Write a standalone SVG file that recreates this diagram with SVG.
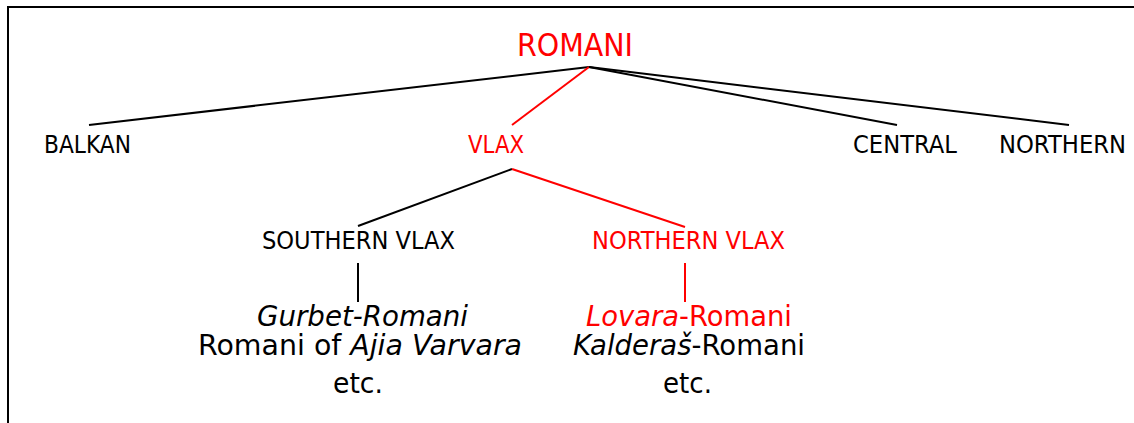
<svg xmlns="http://www.w3.org/2000/svg" width="1134" height="423" viewBox="0 0 1134 423">
<style>
text{font-family:"DejaVu Sans","Liberation Sans",sans-serif;fill:#000}
.r{fill:#ff0000}
.l1{font-size:25px}
.l2{font-size:24px}
.l3{font-size:28px}
.top{font-size:32px}
.i{font-style:italic}
.ln{stroke:#000;stroke-width:2;fill:none}
.lr{stroke:#ff0000;stroke-width:2;fill:none}
</style>
<rect width="1134" height="423" fill="#fff"/>
<path d="M8,423 V7 H1134" stroke="#000" stroke-width="2" fill="none"/>
<g id="connectors">
<line class="ln" x1="589" y1="67" x2="89" y2="125"/>
<line class="lr" x1="589" y1="67" x2="512" y2="125"/>
<line class="ln" x1="589" y1="67" x2="897" y2="125"/>
<line class="ln" x1="589" y1="67" x2="1069" y2="125"/>
<line class="ln" x1="512" y1="169" x2="358" y2="226"/>
<line class="lr" x1="512" y1="169" x2="685" y2="227"/>
<line class="ln" x1="358" y1="263" x2="358" y2="302"/>
<line class="lr" x1="685" y1="263" x2="685" y2="302"/>
</g>
<g id="romani"><text class="top r" x="517" y="56" textLength="116" lengthAdjust="spacingAndGlyphs">ROMANI</text></g>
<g id="balkan"><text class="l1" x="44" y="153" textLength="87" lengthAdjust="spacingAndGlyphs">BALKAN</text></g>
<g id="vlax"><text class="l1 r" x="468" y="153" textLength="56" lengthAdjust="spacingAndGlyphs">VLAX</text></g>
<g id="central"><text class="l1" x="853" y="153" textLength="104" lengthAdjust="spacingAndGlyphs">CENTRAL</text></g>
<g id="northern"><text class="l1" x="999" y="153" textLength="127" lengthAdjust="spacingAndGlyphs">NORTHERN</text></g>
<g id="southern-vlax"><text class="l2" x="262" y="249" textLength="193" lengthAdjust="spacingAndGlyphs">SOUTHERN VLAX</text></g>
<g id="northern-vlax"><text class="l2 r" x="592" y="249" textLength="193" lengthAdjust="spacingAndGlyphs">NORTHERN VLAX</text></g>
<g id="southern-list">
<text class="l3 i" x="257" y="326" textLength="211" lengthAdjust="spacingAndGlyphs">Gurbet-Romani</text>
<text class="l3" x="198" y="355" textLength="324" lengthAdjust="spacingAndGlyphs">Romani of <tspan class="i">Ajia Varvara</tspan></text>
<text class="l3" x="333" y="393" textLength="50" lengthAdjust="spacingAndGlyphs">etc.</text>
</g>
<g id="northern-list">
<text class="l3 r" x="586" y="326" textLength="206" lengthAdjust="spacingAndGlyphs"><tspan class="i">Lovara</tspan>-Romani</text>
<text class="l3" x="573" y="355" textLength="232" lengthAdjust="spacingAndGlyphs"><tspan class="i">Kalderaš</tspan>-Romani</text>
<text class="l3" x="663" y="393" textLength="49" lengthAdjust="spacingAndGlyphs">etc.</text>
</g>
</svg>
